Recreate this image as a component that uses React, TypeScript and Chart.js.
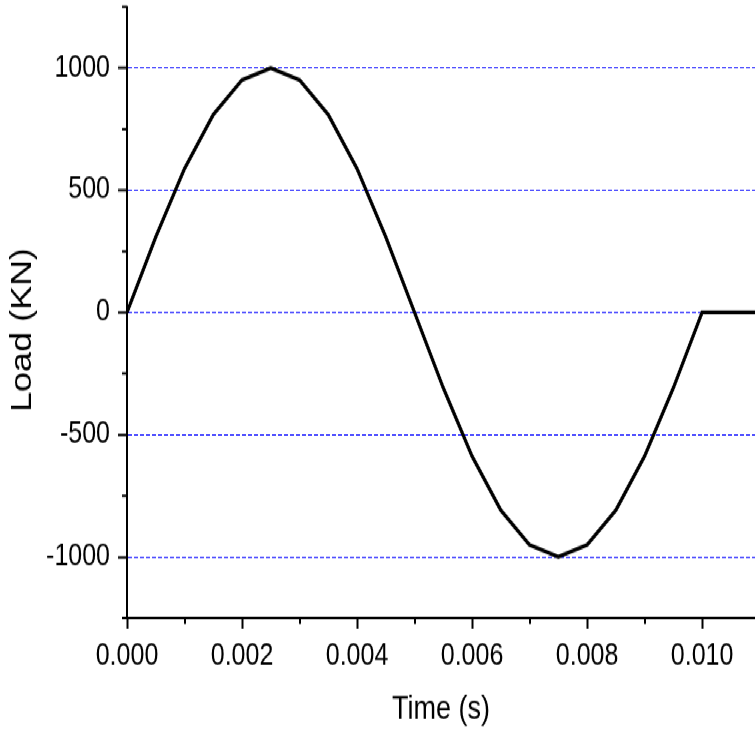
import React, { useEffect, useRef } from "react";
import { Chart, registerables } from "chart.js";

Chart.register(...registerables);

// Data
const time: number[] = [
  0, 0.0005, 0.001, 0.0015, 0.002, 0.0025, 0.003, 0.0035, 0.004, 0.0045, 0.005,
  0.0055, 0.006, 0.0065, 0.007, 0.0075, 0.008, 0.0085, 0.009, 0.0095, 0.01, 0.011,
];
const load: number[] = [
  0, 309, 588, 809, 951, 1000, 951, 809, 588, 309, 0,
  -309, -588, -809, -951, -1000, -951, -809, -588, -309, 0, 0,
];

const xMajorTicks: number[] = [0, 0.002, 0.004, 0.006, 0.008, 0.01];
const xMinorTicks: number[] = [0.001, 0.003, 0.005, 0.007, 0.009];
const yMajorTicks: number[] = [-1000, -500, 0, 500, 1000];
const yMinorTicks: number[] = [-1250, -750, -250, 250, 750, 1250];

const xTitle = "Time (s)";
const yTitle = "Load (KN)";

const X_MIN = 0;
const X_MAX = 0.01092;
const Y_MIN = -1250;
const Y_MAX = 1250;

// The reference is stretched vertically (~1.2x); draw on a 755x610 canvas and stretch it.
const W = 755;
const H = 610;
const STRETCH = 732 / 610;

const FONT = '"Liberation Sans", Arial, sans-serif';

const minorTicksPlugin = {
  id: "minorTicksAndYTitle",
  afterDraw(chart: any) {
    const { ctx, chartArea } = chart;
    const xs = chart.scales.x;
    const ys = chart.scales.y;
    ctx.save();
    ctx.strokeStyle = "#000";
    ctx.lineWidth = 2;
    ctx.beginPath();
    yMinorTicks.forEach((v) => {
      const py = ys.getPixelForValue(v);
      ctx.moveTo(chartArea.left - 5, py);
      ctx.lineTo(chartArea.left, py);
    });
    xMinorTicks.forEach((v) => {
      const px = Math.round(xs.getPixelForValue(v));
      ctx.moveTo(px, chartArea.bottom);
      ctx.lineTo(px, chartArea.bottom + 5);
    });
    ctx.stroke();
    // rotated y-axis title
    ctx.translate(23, (chartArea.top + chartArea.bottom) / 2 + 14.6);
    ctx.rotate(-Math.PI / 2);
    ctx.fillStyle = "#000";
    ctx.font = `30px ${FONT}`;
    ctx.textAlign = "center";
    ctx.textBaseline = "middle";
    ctx.fillText(yTitle, 0, 0);
    ctx.restore();
  },
};

export default function App() {
  const canvasRef = useRef<HTMLCanvasElement | null>(null);

  useEffect(() => {
    if (!canvasRef.current) return;
    const chart = new Chart(canvasRef.current, {
      type: "line",
      data: {
        datasets: [
          {
            data: time.map((t, i) => ({ x: t, y: load[i] })),
            borderColor: "#000",
            borderWidth: 3.2,
            pointRadius: 0,
            tension: 0,
            fill: false,
          },
        ],
      },
      options: {
        responsive: false,
        animation: false,
        devicePixelRatio: 1,
        layout: { padding: { top: 5.8, left: 0, right: 0, bottom: 0 } },
        plugins: {
          legend: { display: false },
          tooltip: { enabled: false },
        },
        scales: {
          x: {
            type: "linear",
            min: X_MIN,
            max: X_MAX,
            afterBuildTicks: (axis: any) => {
              axis.ticks = xMajorTicks.map((v) => ({ value: v }));
            },
            afterFit: (axis: any) => {
              axis.height = 95;
              axis.paddingLeft = 0;
              axis.paddingRight = 0;
            },
            ticks: {
              autoSkip: false,
              maxRotation: 0,
              minRotation: 0,
              padding: 8,
              color: "#000",
              font: { family: FONT, size: 25 },
              callback: (v: any) => Number(v).toFixed(3),
            },
            grid: {
              drawOnChartArea: false,
              drawTicks: true,
              tickLength: 9,
              tickWidth: 2,
              tickColor: "#000",
            },
            border: { display: true, color: "#000", width: 2 },
            title: {
              display: true,
              text: xTitle,
              color: "#000",
              font: { family: FONT, size: 27 },
              padding: { top: 0, bottom: 2 },
            },
          },
          y: {
            type: "linear",
            min: Y_MIN,
            max: Y_MAX,
            afterBuildTicks: (axis: any) => {
              axis.ticks = yMajorTicks.map((v) => ({ value: v }));
            },
            afterFit: (axis: any) => {
              axis.width = 127;
              axis.paddingTop = 0;
              axis.paddingBottom = 0;
            },
            ticks: {
              padding: 8,
              color: "#000",
              font: { family: FONT, size: 25 },
              callback: (v: any) => String(v),
            },
            grid: {
              color: "#1a1aff",
              lineWidth: 1,
              drawTicks: true,
              tickLength: 9,
              tickWidth: 2,
              tickColor: "#000",
            },
            border: { display: true, color: "#000", width: 2, dash: [4, 2] },
          },
        },
      },
      plugins: [minorTicksPlugin],
    });
    return () => chart.destroy();
  }, []);

  return (
    <div
      style={{
        position: "fixed",
        left: 0,
        top: 0,
        width: W,
        height: H,
        background: "#fff",
        transform: `scaleY(${STRETCH})`,
        transformOrigin: "0 0",
      }}
    >
      <canvas ref={canvasRef} width={W} height={H} style={{ display: "block" }} />
    </div>
  );
}
